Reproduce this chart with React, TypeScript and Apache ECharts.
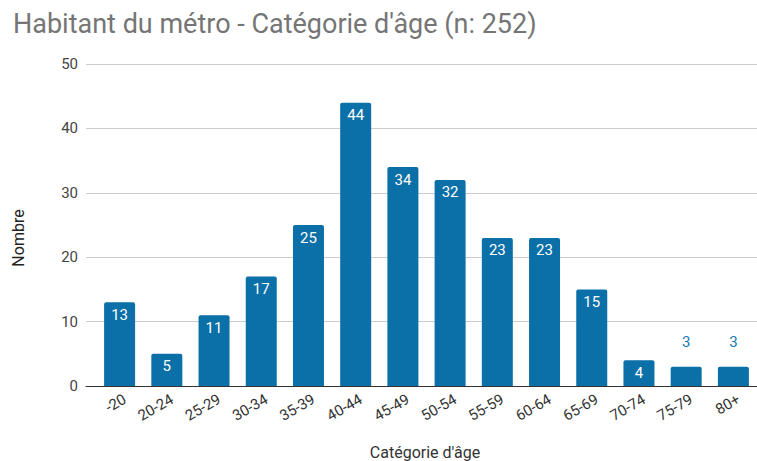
import React, { useEffect, useRef } from "react";
import * as echarts from "echarts";

const categories = ["-20", "20-24", "25-29", "30-34", "35-39", "40-44", "45-49", "50-54", "55-59", "60-64", "65-69", "70-74", "75-79", "80+"];
const values = [13, 5, 11, 17, 25, 44, 34, 32, 23, 23, 15, 4, 3, 3];
const yTicks = { min: 0, max: 50, interval: 10 };
const title = "Habitant du métro - Catégorie d'âge (n: 252)";
const xName = "Catégorie d'âge";
const yName = "Nombre";

const BAR = "#0b6fa8";
const FONT = "Roboto, 'Noto Sans', sans-serif";

export default function App() {
  const ref = useRef<HTMLDivElement>(null);
  useEffect(() => {
    document.body.style.margin = "0";
    const chart = echarts.init(ref.current!, null, { renderer: "svg" });
    const data = values.map((v) =>
      v <= 3
        ? { value: v, label: { position: "top", distance: 17, color: "#1a7ab5" } }
        : { value: v }
    );
    chart.setOption({
      animation: false,
      textStyle: { fontFamily: FONT },
      title: {
        text: title,
        left: 8,
        top: 5,
        textStyle: { fontSize: 27, fontWeight: "normal", color: "#757575", fontFamily: FONT },
      },
      grid: [
        { left: 86, right: 0, top: 64, bottom: 75 },
        { left: 96, right: -4, top: 64, bottom: 75 },
      ],
      xAxis: [
        {
          gridIndex: 0,
          type: "category",
          data: [""],
          axisLine: { show: true, lineStyle: { color: "#333", width: 1 } },
          axisTick: { show: false },
          axisLabel: { show: false },
        },
        {
          gridIndex: 1,
          type: "category",
          data: categories,
          axisLine: { show: false },
          axisTick: { show: false },
          axisLabel: { rotate: 30, fontSize: 15, color: "#333", margin: 15, fontFamily: FONT, padding: [0, -6, 0, 0] },
        },
      ],
      yAxis: [
        {
          gridIndex: 0,
          type: "value",
          ...yTicks,
          axisLine: { show: false },
          axisTick: { show: false },
          axisLabel: { fontSize: 15, color: "#444", margin: 8, fontFamily: FONT },
          splitLine: { lineStyle: { color: "#cccccc", width: 1 } },
        },
        {
          gridIndex: 1,
          type: "value",
          ...yTicks,
          show: false,
          splitLine: { show: false },
        },
      ],
      graphic: [
        {
          type: "text",
          x: 18,
          y: 238,
          rotation: Math.PI / 2,
          style: { text: yName, fontSize: 16, fill: "#222", fontFamily: FONT, align: "center", verticalAlign: "middle" },
        },
        {
          type: "text",
          x: 425,
          y: 452,
          style: { text: xName, fontSize: 16, fill: "#333", fontFamily: FONT, align: "center", verticalAlign: "middle" },
        },
      ],
      series: [
        {
          type: "bar",
          xAxisIndex: 1,
          yAxisIndex: 1,
          data,
          barWidth: 31,
          itemStyle: { color: BAR, borderRadius: [2, 2, 0, 0] },
          label: {
            show: true,
            position: "insideTop",
            distance: 5,
            color: "#fff",
            fontSize: 15,
            fontFamily: FONT,
          },
        },
      ],
    });
    return () => chart.dispose();
  }, []);
  return <div ref={ref} style={{ width: 757, height: 461 }} />;
}
